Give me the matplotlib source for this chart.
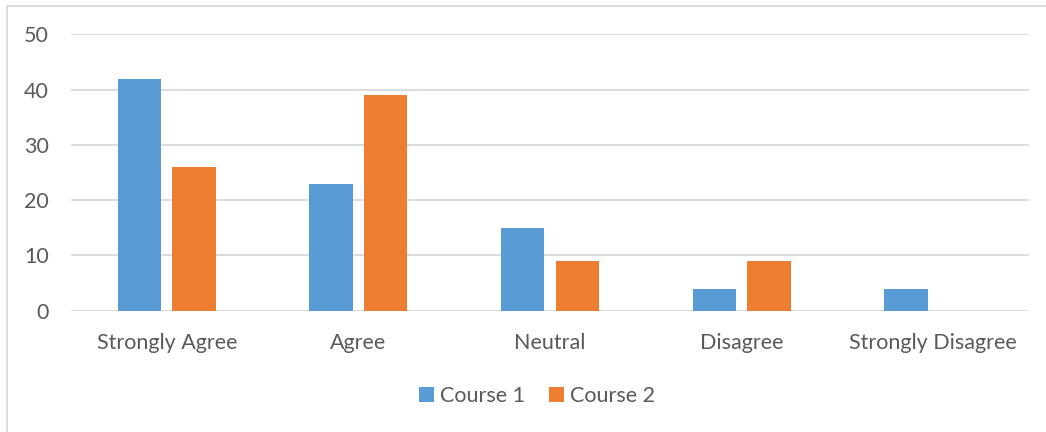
import matplotlib
matplotlib.use("Agg")
import matplotlib.pyplot as plt
import numpy as np
from matplotlib.patches import Rectangle

categories = ["Strongly Agree", "Agree", "Neutral", "Disagree", "Strongly Disagree"]
course1 = [42, 23, 15, 4, 4]
course2 = [26, 39, 9, 9, 0]
series_names = ["Course 1", "Course 2"]
yticks = [0, 10, 20, 30, 40, 50]

BLUE = "#5B9BD5"
ORANGE = "#ED7D31"
TEXT = "#595959"
GRID = "#D9D9D9"

plt.rcParams["font.family"] = ["Lato", "DejaVu Sans"]

fig = plt.figure(figsize=(10.46, 4.32), dpi=100)
ax = fig.add_axes([71 / 1046, 1 - 310.7 / 432, (1029 - 71) / 1046, (310.7 - 34.3) / 432])

x = np.arange(len(categories))
width = 0.227
offset = 0.1425
ax.bar(x - offset, course1, width, color=BLUE, label=series_names[0], zorder=3)
ax.bar(x + offset, course2, width, color=ORANGE, label=series_names[1], zorder=3)

ax.set_xlim(-0.5, len(categories) - 0.5)
ax.set_ylim(0, 50)
ax.set_yticks(yticks)
ax.set_xticks(x)
ax.set_xticklabels(categories)
ax.yaxis.grid(True, color=GRID, linewidth=1.3, zorder=0)
ax.set_axisbelow(True)
for s in ax.spines.values():
    s.set_visible(False)
ax.tick_params(axis="both", length=0, colors=TEXT, labelsize=15.5)
ax.tick_params(axis="x", pad=16)
ax.tick_params(axis="y", pad=16)

leg = fig.legend(loc="center", bbox_to_anchor=(537 / 1046, 1 - 396 / 432), ncol=2,
                 frameon=False, fontsize=15.5, handlelength=0.7, handleheight=0.7,
                 handletextpad=0.3, columnspacing=1.1)
for t in leg.get_texts():
    t.set_color(TEXT)

# outer chart-area frame
fig.patches.append(Rectangle((7 / 1046, -0.1), 1.2, 1 - 5.5 / 432 + 0.1,
                             transform=fig.transFigure, fill=False,
                             edgecolor=GRID, linewidth=1.3))

fig.savefig("out.png", dpi=100)
